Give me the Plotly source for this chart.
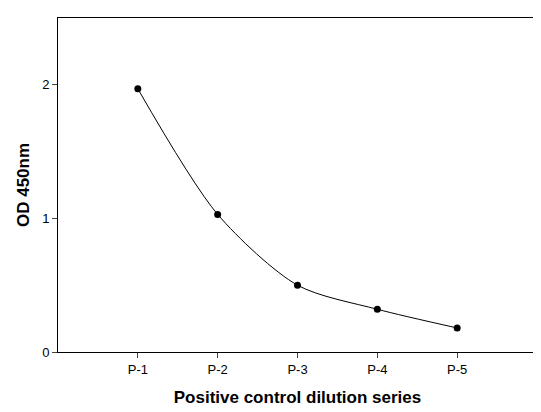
import plotly.graph_objects as go

labels = ["P-1", "P-2", "P-3", "P-4", "P-5"]
xpos = [1, 2, 3, 4, 5]
od = [1.97, 1.03, 0.50, 0.32, 0.18]

fig = go.Figure(go.Scatter(
    x=xpos, y=od, mode="lines+markers",
    line=dict(color="black", width=1, shape="spline", smoothing=0.8),
    marker=dict(color="black", size=7),
))
fig.update_layout(
    width=541, height=412, plot_bgcolor="white", paper_bgcolor="white",
    margin=dict(l=50, r=12, t=10, b=68, autoexpand=False), showlegend=False,
    font=dict(family="Liberation Sans, Arial", color="black", size=13),
)
fig.update_xaxes(range=[0, 6], tickvals=xpos, ticktext=labels, showgrid=False,
                 showline=True, linecolor="black", mirror=True, ticks="outside",
                 ticklen=5, zeroline=False, automargin=False,
                 title=dict(text="<b>Positive control dilution series</b>", font=dict(size=17), standoff=15))
fig.update_yaxes(range=[0, 2.5], tickvals=[0, 1, 2], showgrid=False,
                 showline=True, linecolor="black", mirror=True, ticks="outside",
                 ticklen=5, zeroline=False, automargin=False,
                 title=dict(text="<b>OD 450nm</b>", font=dict(size=17), standoff=8))
fig.write_html("out.html")
